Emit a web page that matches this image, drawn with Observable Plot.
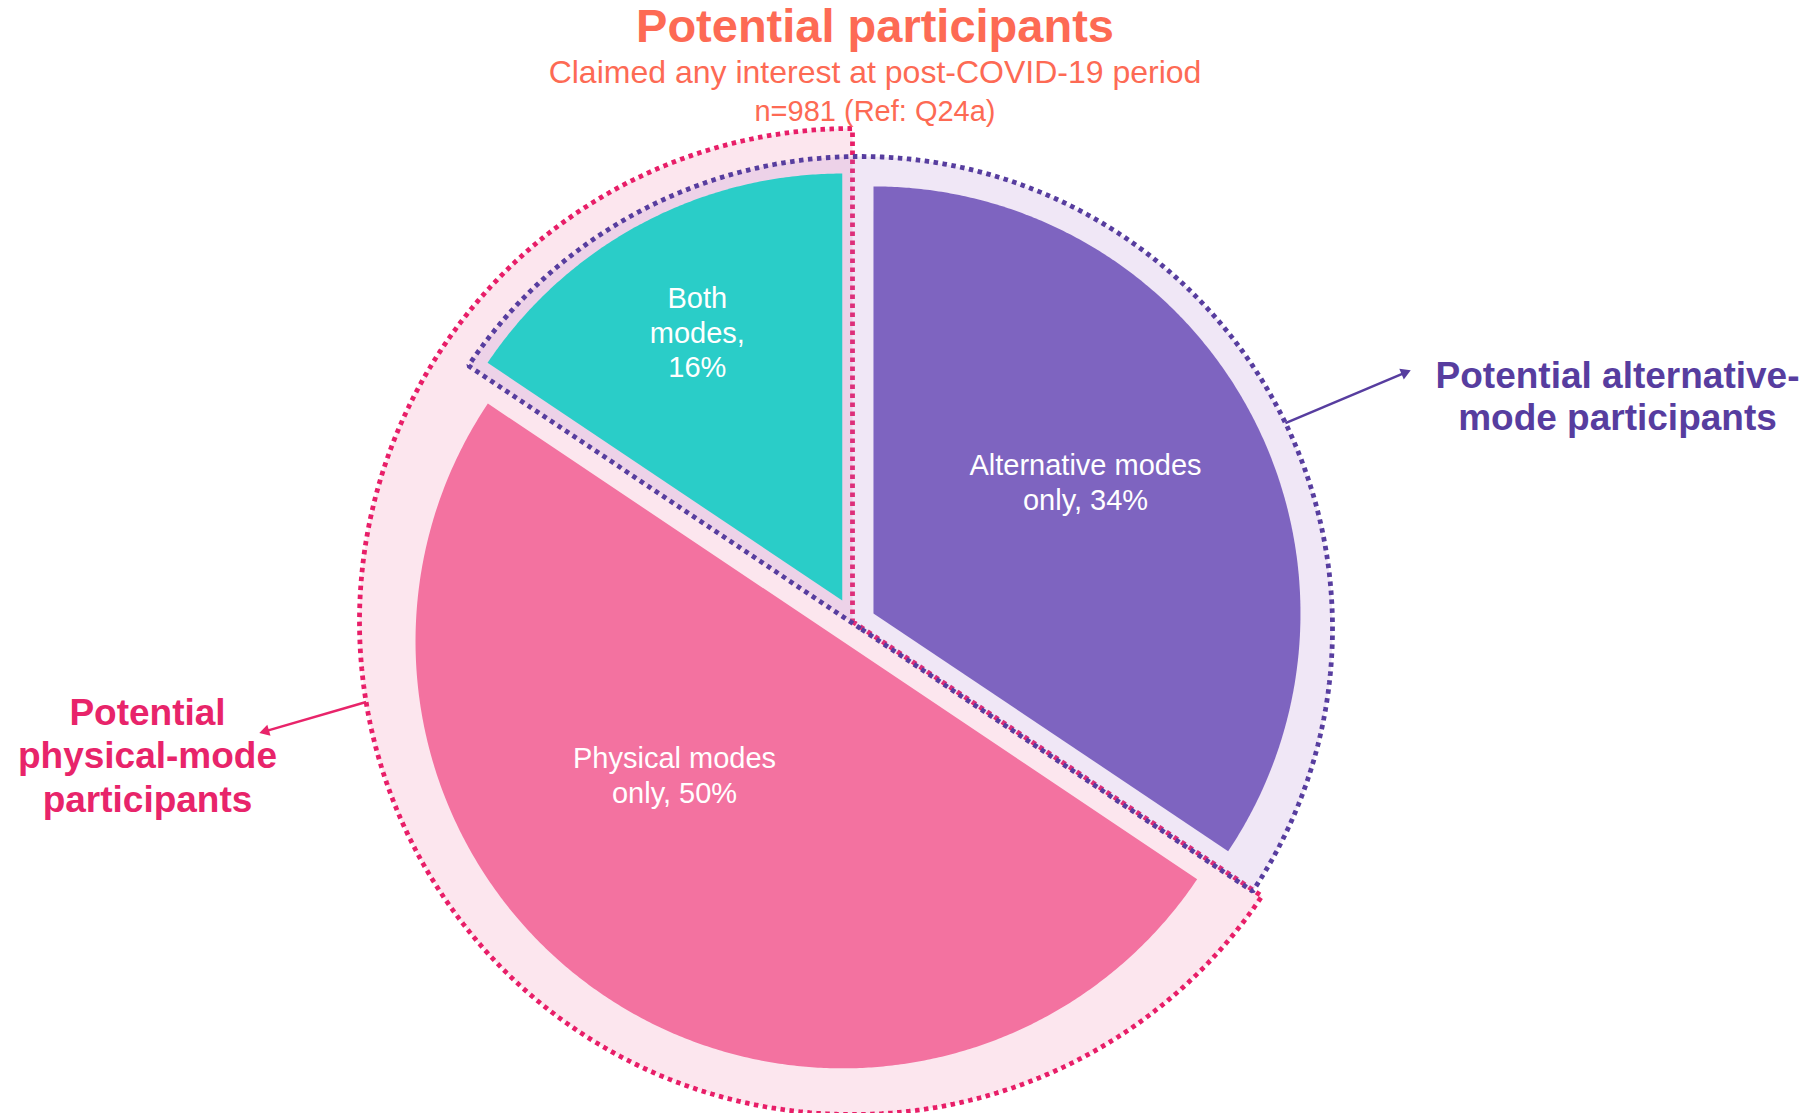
<!DOCTYPE html>
<html><head><meta charset="utf-8">
<script src="https://cdn.jsdelivr.net/npm/d3@7"></script>
<script src="https://cdn.jsdelivr.net/npm/@observablehq/plot@0.6"></script>
<style>
html,body{margin:0;padding:0;background:#fff;}
body{width:1818px;height:1113px;overflow:hidden;font-family:Arial,"Liberation Sans",sans-serif;}
#hdr{position:relative;height:122px;width:1818px;color:#FD6A54;}
#hdr div{position:absolute;left:0;width:1750px;text-align:center;white-space:nowrap;}
#chart svg{overflow:visible;display:block;}
</style></head><body>
<div id="hdr">
  <div id="t1" style="top:2px;font-size:47px;line-height:47px;font-weight:bold"></div>
  <div id="t2" style="top:56px;font-size:32px;line-height:32px"></div>
  <div id="t3" style="top:97px;font-size:29px;line-height:29px"></div>
</div>
<div id="chart"></div>
<script>
// ---------- data ----------
const title = "Potential participants";
const subtitle = "Claimed any interest at post-COVID-19 period";
const note = "n=981 (Ref: Q24a)";

const categories = ["Alternative modes only", "Physical modes only", "Both modes"];
const shares = [34.4, 50.0, 15.6];
const sliceLabels = ["Alternative modes\nonly, 34%", "Physical modes\nonly, 50%", "Both\nmodes,\n16%"];

const groupNames = ["Potential alternative-\nmode participants", "Potential\nphysical-mode\nparticipants"];
const groupMembers = [["Alternative modes only", "Both modes"], ["Physical modes only", "Both modes"]];

// ---------- styles / layout ----------
const W = 1818, H = 991;
const FONT = "Arial, 'Liberation Sans', sans-serif";
const sliceColors = ["#7E64C0", "#F372A0", "#2ACDC8"];
const CENTER = [854, 501];
const R = 427;
const EXPLODE = [21.5, 21.5, 26];
const labelPlace = [{angle: 58.1, dist: 0.585}, {angle: 231.6, dist: 0.502}, {angle: 331.7, dist: 0.716}];
const groupStyle = [
  {dx: 6, dy: 5, r: 472, fill: "rgb(170,120,205)", fillOpacity: 0.18, stroke: "#573D9F", text: "#573D9F"},
  {dx: -2, dy: -2, r: 493, fill: "#FCE6EE", fillOpacity: 1, stroke: "#E81E68", text: "#E8246A"}
];
const groupLabelPos = [{x: 1617, y: 273, lh: 1.135}, {x: 147, y: 632, lh: 1.18}];
const arrowSpec = [{angle: 64.2, x2: 1412, y2: 247}, {angle: 260.6, x2: 257, y2: 611}];

document.getElementById("t1").textContent = title;
document.getElementById("t2").textContent = subtitle;
document.getElementById("t3").textContent = note;

// ---------- geometry ----------
const rows = categories.map((c, i) => ({category: c, share: shares[i], label: sliceLabels[i], color: sliceColors[i], idx: i}));
const arcs = d3.pie().sort(null).value(d => d.share)(rows);
const polar = (cx, cy, r, a) => [cx + r * Math.sin(a), cy - r * Math.cos(a)];
const deg = Math.PI / 180;

function sectorPoints(key, cx, cy, r, a0, a1, extra) {
  const pts = [{key, x: cx, y: cy, ...extra}];
  const n = Math.max(2, Math.ceil((a1 - a0) / (0.4 * deg)));
  for (let k = 0; k <= n; k++) {
    const [x, y] = polar(cx, cy, r, a0 + (a1 - a0) * k / n);
    pts.push({key, x, y, ...extra});
  }
  pts.push({key, x: cx, y: cy, ...extra});
  return pts;
}

const slicePts = [];
const sliceLabelRows = [];
arcs.forEach(a => {
  const mid = (a.startAngle + a.endAngle) / 2;
  const [ax, ay] = polar(CENTER[0], CENTER[1], EXPLODE[a.data.idx], mid);
  slicePts.push(...sectorPoints(a.data.category, ax, ay, R, a.startAngle, a.endAngle, {color: a.data.color}));
  const lp = labelPlace[a.data.idx];
  const [lx, ly] = polar(ax, ay, lp.dist * R, lp.angle * deg);
  sliceLabelRows.push({x: lx, y: ly, text: a.data.label});
});

const groups = groupMembers.map((members, gi) => {
  const isM = arcs.map(a => members.includes(a.data.category));
  const n = arcs.length;
  let s = 0;
  for (let i = 0; i < n; i++) if (isM[i] && !isM[(i - 1 + n) % n]) s = i;
  const span = arcs.filter((a, i) => isM[i]).reduce((t, a) => t + a.endAngle - a.startAngle, 0);
  const a0 = arcs[s].startAngle, a1 = a0 + span;
  const st = groupStyle[gi];
  const cx = CENTER[0] + st.dx, cy = CENTER[1] + st.dy;
  return {name: groupNames[gi], cx, cy, r: st.r, a0, a1, st, pts: sectorPoints(groupNames[gi], cx, cy, st.r, a0, a1, {})};
});

// arrows
const arrowRows = groups.map((g, gi) => {
  const sp = arrowSpec[gi];
  const [x1, y1] = polar(g.cx, g.cy, g.r, sp.angle * deg);
  const dx = sp.x2 - x1, dy = sp.y2 - y1, L = Math.hypot(dx, dy);
  const ux = dx / L, uy = dy / L;
  const rr = 5.5;
  const tip = 2 * Math.sqrt(rr * rr * Math.PI / (Math.sqrt(3) * 3));
  return {x1, y1, x2: sp.x2 - ux * tip, y2: sp.y2 - uy * tip, hx: sp.x2 - ux * tip, hy: sp.y2 - uy * tip,
          rot: Math.atan2(dx, -dy) / deg, color: g.st.text, r: rr};
});

const dotted = g => Plot.line(g.pts, {x: "x", y: "y", z: "key", fill: "none", stroke: g.st.stroke, strokeWidth: 4.8,
    strokeDasharray: "4.5 4.5", strokeLinecap: "butt", strokeLinejoin: "miter", curve: "linear"});
const band = g => Plot.line(g.pts, {x: "x", y: "y", z: "key", fill: g.st.fill, fillOpacity: g.st.fillOpacity, stroke: "none", curve: "linear"});

const [altGroup, physGroup] = groups;
const marks = [
  band(physGroup),
  dotted(physGroup),
  band(altGroup),
  Plot.line(slicePts, {x: "x", y: "y", z: "key", fill: "color", stroke: "none", curve: "linear"}),
  dotted(altGroup),
  Plot.text(sliceLabelRows, {x: "x", y: "y", text: "text", fill: "white", fontSize: 29, lineHeight: 1.2,
    fontFamily: FONT, textAnchor: "middle"})
];
groups.forEach((g, gi) => {
  const p = groupLabelPos[gi];
  marks.push(Plot.text([{x: p.x, y: p.y, text: g.name}], {x: "x", y: "y", text: "text", fill: g.st.text, fontSize: 37,
    fontWeight: "bold", lineHeight: p.lh, fontFamily: FONT, textAnchor: "middle"}));
});
marks.push(Plot.link(arrowRows, {x1: "x1", y1: "y1", x2: "x2", y2: "y2", stroke: "color", strokeWidth: 2.5}));
marks.push(Plot.dot(arrowRows, {x: "hx", y: "hy", symbol: "triangle2", r: "r", rotate: "rot", fill: "color", stroke: "none"}));

const chart = Plot.plot({
  width: W, height: H, margin: 0,
  x: {domain: [0, W], range: [0, W], axis: null},
  y: {domain: [0, H], range: [0, H], axis: null},
  r: {type: "identity"},
  color: {type: "identity"},
  style: {fontFamily: FONT, background: "white", overflow: "visible"},
  marks
});
document.getElementById("chart").appendChild(chart);
</script>
</body></html>
